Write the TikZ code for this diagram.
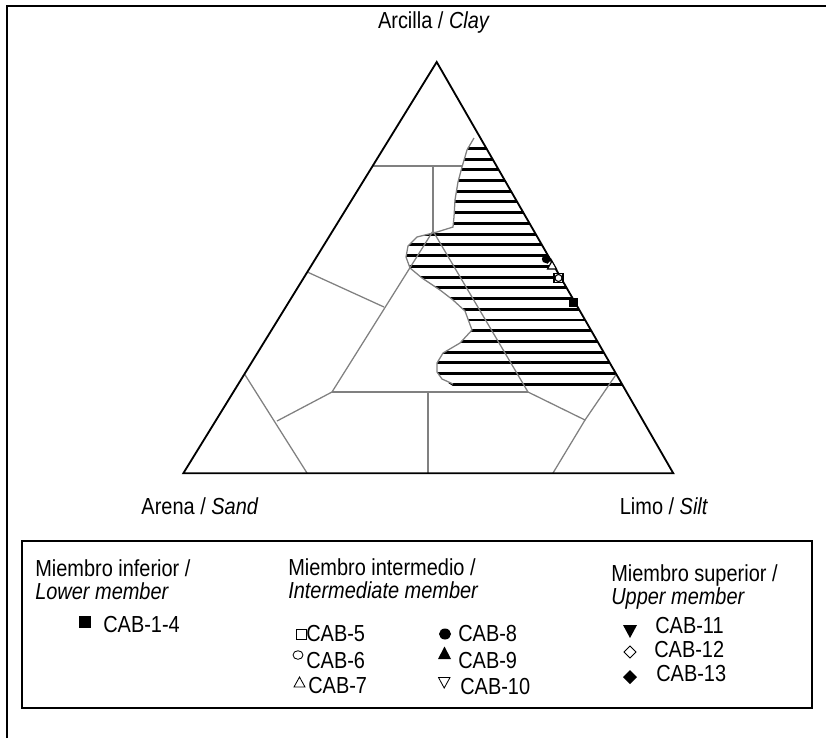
\documentclass[tikz,border=0pt]{standalone}
\usepackage{fontspec}
\setmainfont[FakeStretch=0.86]{Liberation Sans}
\usepackage{tikz}

\tikzset{
  frame/.style={line width=1.3pt},
  classline/.style={black!50, line width=0.9pt},
  hatchline/.style={line width=2.1pt},
  txt/.style={inner sep=0pt, font=\fontsize{16.5}{19}\selectfont},
  lbl/.style={txt, anchor=base west},
}

\begin{document}
\begin{tikzpicture}[x=0.025cm, y=-0.025cm]
\useasboundingbox (0,0) rectangle (826,738);

% Outer frame (runs off at right and bottom)
\draw[frame] (7,738) -- (7,6) -- (826,6);

% Hatched field along the clay-silt side
\begin{scope}
  \clip (480.4,137) -- (472,137) -- (467,150) -- (462,167) -- (458,182)
        -- (455,200) -- (454,217) -- (453,227) -- (437,232) -- (417,237)
        -- (408,246) -- (406,257) -- (410,268) -- (422,278) -- (440,290)
        -- (453,300) -- (465,311) -- (472,330) -- (460,343) -- (443,353)
        -- (437,363) -- (437,372) -- (442,379) -- (453,386) -- (623,386) -- cycle;
  \foreach \i in {0,...,22}
    \draw[hatchline] (400,{148.3+10.73*\i}) -- (640,{148.3+10.73*\i});
\end{scope}
\draw[classline] (474,138) -- (467,150) -- (462,167) -- (458,182)
        -- (455,200) -- (454,217) -- (453,227) -- (437,232) -- (417,237)
        -- (408,246) -- (406,257) -- (410,268) -- (422,278) -- (440,290)
        -- (453,300) -- (465,311) -- (472,330) -- (460,343) -- (443,353)
        -- (437,363) -- (437,372) -- (442,379) -- (453,384);

% Class boundaries
\draw[classline] (372.7,166) -- (462,166);
\draw[classline] (433,166) -- (433,231);
\draw[classline] (433,231) -- (528,392);
\draw[classline] (433,231) -- (332,392);
\draw[classline] (307.3,272) -- (384,307);
\draw[classline] (332,392) -- (528,392);
\draw[classline] (332,392) -- (277,421);
\draw[classline] (244.5,374) -- (307,473);
\draw[classline] (428,392) -- (428,473);
\draw[classline] (528,392) -- (585,420) -- (553,473);
\draw[classline] (585,420) -- (616.4,374);

% Triangle
\draw[frame, line join=miter] (436.7,62) -- (183.3,473.3) -- (673.3,473.3) -- cycle;

% Samples
\fill (546,259) circle (4.2);
\fill (547,264) -- (552,259) -- (543,255) -- cycle;
\draw[fill=white, line width=0.8pt] (552,261) -- (547.5,269) -- (556.5,269) -- cycle;
\draw[fill=white, line width=0.8pt] (554,273.5) rectangle (563,282.5);
\draw[fill=white, line width=0.8pt] (558.5,278) circle (3.5);
\fill (569,297.5) rectangle (578,306.5);
\fill (573.5,302) circle (4);

% Apex labels
\node[txt, anchor=base] (clay) at (434,28) {Arcilla / \textit{Clay}};
\node[txt, anchor=base] (sand) at (200,514) {Arena / \textit{Sand}};
\node[txt, anchor=base] (silt) at (664,514) {Limo / \textit{Silt}};

% Legend
\draw[line width=1pt] (22,541) rectangle (812,708);

\node[lbl] (lowA) at (35,576) {Miembro inferior /};
\node[lbl] (lowB) at (35,599) {\textit{Lower member}};
\node[lbl] (midA) at (288,575) {Miembro intermedio /};
\node[lbl] (midB) at (288,598) {\textit{Intermediate member}};
\node[lbl] (upA) at (611,581) {Miembro superior /};
\node[lbl] (upB) at (611,604) {\textit{Upper member}};

% lower member
\fill (79,616) rectangle (91,628);
\node[lbl] (cab1) at (103,632) {CAB-1-4};

% intermediate member
\draw[line width=0.6pt] (296.5,629.5) rectangle (306,639);
\node[lbl] (cab5) at (306,641) {CAB-5};
\draw[line width=0.6pt] (298,655) ellipse (5 and 4.3);
\node[lbl] (cab6) at (306,668) {CAB-6};
\draw[line width=0.6pt] (299.5,677) -- (294,687) -- (305,687) -- cycle;
\node[lbl] (cab7) at (308,693) {CAB-7};
\fill (445,634) ellipse (6 and 5.5);
\node[lbl] (cab8) at (458,641) {CAB-8};
\fill (444.5,646.5) -- (438,659) -- (451,659) -- cycle;
\node[lbl] (cab9) at (458,668) {CAB-9};
\draw[line width=0.6pt] (438.5,677.5) -- (450,677.5) -- (444.2,688) -- cycle;
\node[lbl] (cab10) at (460,694) {CAB-10};

% upper member
\fill (623,625) -- (637,625) -- (630,638) -- cycle;
\node[lbl] (cab11) at (655,633) {CAB-11};
\draw[line width=0.6pt] (630,646) -- (636,652) -- (630,658) -- (624,652) -- cycle;
\node[lbl] (cab12) at (654,657) {CAB-12};
\fill (630,670) -- (637,677) -- (630,684) -- (623,677) -- cycle;
\node[lbl] (cab13) at (656,681) {CAB-13};

\end{tikzpicture}
\end{document}
